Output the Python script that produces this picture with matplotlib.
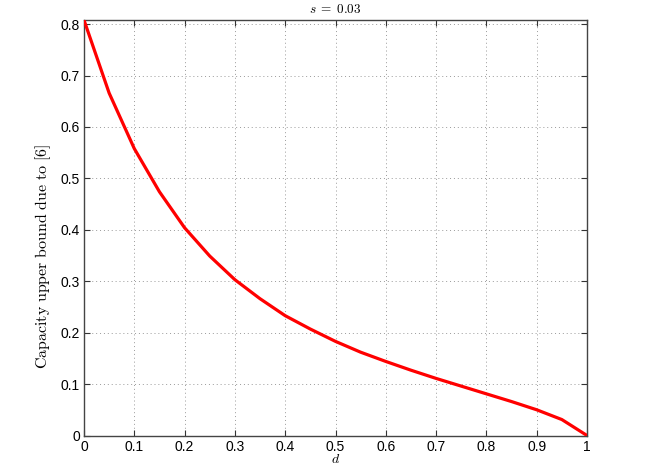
import matplotlib
matplotlib.use("Agg")
import matplotlib.pyplot as plt
import numpy as np

d = [0.0, 0.05, 0.1, 0.15, 0.2, 0.25, 0.3, 0.35, 0.4, 0.45, 0.5,
     0.55, 0.6, 0.65, 0.7, 0.75, 0.8, 0.85, 0.9, 0.95, 1.0]
capacity = [0.808, 0.666, 0.558, 0.474, 0.404, 0.349, 0.303, 0.266, 0.233, 0.207, 0.183,
            0.162, 0.144, 0.127, 0.111, 0.096, 0.081, 0.066, 0.050, 0.031, 0.0]
xticks = [0, 0.1, 0.2, 0.3, 0.4, 0.5, 0.6, 0.7, 0.8, 0.9, 1]
xticklabels = ["0", "0.1", "0.2", "0.3", "0.4", "0.5", "0.6", "0.7", "0.8", "0.9", "1"]
yticks = [0, 0.1, 0.2, 0.3, 0.4, 0.5, 0.6, 0.7, 0.8]
yticklabels = ["0", "0.1", "0.2", "0.3", "0.4", "0.5", "0.6", "0.7", "0.8"]

plt.rcParams['mathtext.fontset'] = 'cm'
plt.rcParams['font.family'] = ['Liberation Sans', 'DejaVu Sans']

fig = plt.figure(figsize=(6.48, 4.70), dpi=100)
ax = fig.add_axes([0.1296, 0.0734, 0.9059 - 0.1296, 0.9574 - 0.0734])

ax.plot(d, capacity, color='#ff0000', lw=2.3, solid_joinstyle='miter', zorder=3)

ax.set_xlim(0, 1)
ax.set_ylim(0, max(capacity))
ax.set_xticks(xticks)
ax.set_xticklabels(xticklabels)
ax.set_yticks(yticks)
ax.set_yticklabels(yticklabels)
ax.tick_params(direction='in', top=True, right=True, length=4, width=0.8,
               labelsize=10, color='#333333', labelcolor='black', pad=3)
ax.grid(True, linestyle=(0, (1, 3)), color='#999999', lw=0.7)
for sp in ax.spines.values():
    sp.set_color('#444444')
    sp.set_linewidth(1.0)

ax.set_title(r'$s\;=\;0.03$', fontsize=9.5, pad=5)
ax.set_xlabel(r'$d$', fontsize=10, labelpad=-1)
ax.set_ylabel(r'$\mathrm{Capacity\ upper\ bound\ due\ to\ [6]}$', fontsize=11.5)
ax.yaxis.set_label_coords(-0.062, 0.432)

fig.savefig('out.png', dpi=100)
